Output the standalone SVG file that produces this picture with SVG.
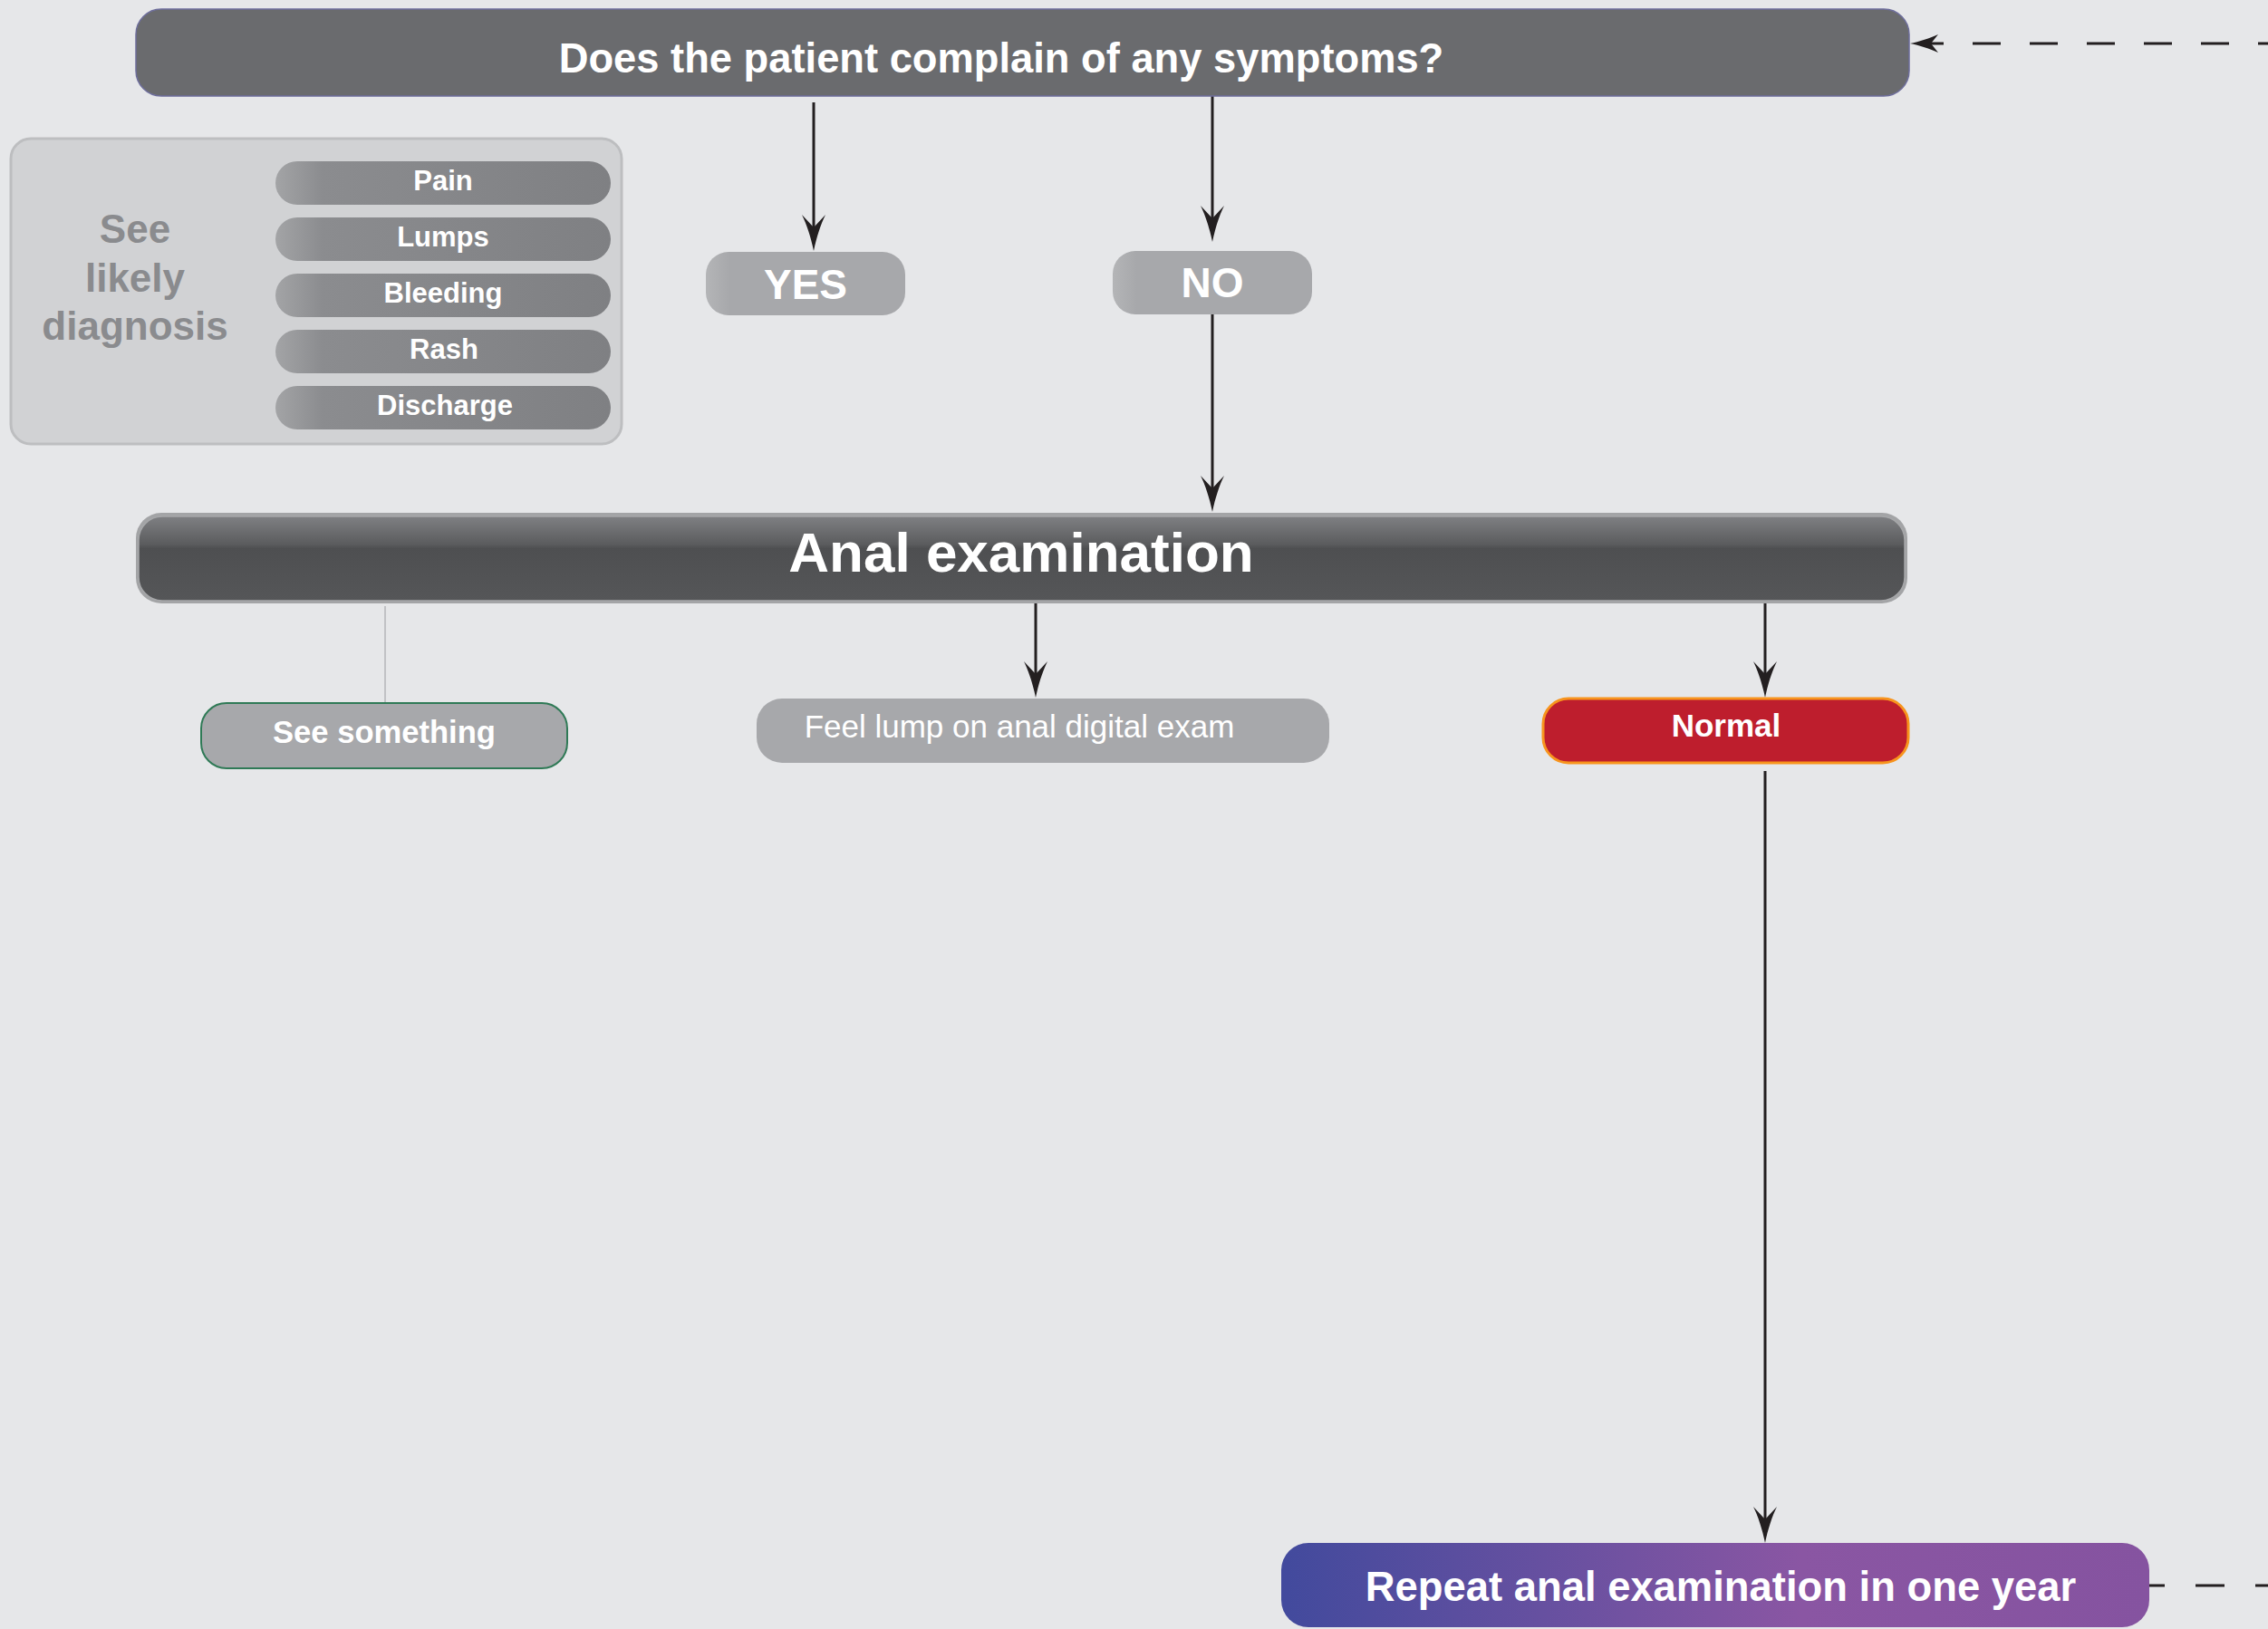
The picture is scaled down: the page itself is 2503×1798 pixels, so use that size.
<svg xmlns="http://www.w3.org/2000/svg" width="2503" height="1798" viewBox="0 0 2503 1798">
<style>
.t{font-family:"Liberation Sans",Arial,Helvetica,sans-serif;fill:#ffffff;text-anchor:middle}
.b{font-weight:bold}
.pill{fill:url(#pillG)}
.conn{stroke:#231f20;stroke-width:3;fill:none}
</style>
<defs>
<linearGradient id="pillG" x1="0" y1="0" x2="1" y2="0">
<stop offset="0" stop-color="#a3a4a6"/>
<stop offset="0.14" stop-color="#8b8c8f"/>
<stop offset="1" stop-color="#7f8083"/>
</linearGradient>
<linearGradient id="ynG" x1="0" y1="0" x2="1" y2="0">
<stop offset="0" stop-color="#b4b5b7"/>
<stop offset="0.12" stop-color="#a7a8ab"/>
<stop offset="1" stop-color="#a7a8ab"/>
</linearGradient>
<linearGradient id="anG" x1="0" y1="0" x2="0" y2="1">
<stop offset="0" stop-color="#7f8083"/>
<stop offset="0.33" stop-color="#5b5c5e"/>
<stop offset="0.38" stop-color="#4e4f51"/>
<stop offset="1" stop-color="#555658"/>
</linearGradient>
<linearGradient id="repG" x1="0" y1="0" x2="1" y2="0">
<stop offset="0" stop-color="#424a9d"/>
<stop offset="0.6" stop-color="#8a56a3"/>
<stop offset="1" stop-color="#8553a0"/>
</linearGradient>
<marker id="ah" viewBox="-45 -16 70 32" refX="-20" refY="0" markerWidth="70" markerHeight="32" markerUnits="userSpaceOnUse" orient="auto" overflow="visible">
<path d="M0,0 C-15,-3 -30,-8 -40,-13 L-26,0 L-40,13 C-30,8 -15,3 0,0 Z" fill="#231f20"/>
</marker>
</defs>
<rect x="0" y="0" width="2503" height="1798" fill="#e6e7e9"/>

<g id="connectors">
<line class="conn" x1="898" y1="113" x2="898" y2="257" marker-end="url(#ah)"/>
<line class="conn" x1="1338" y1="106" x2="1338" y2="247" marker-end="url(#ah)"/>
<line class="conn" x1="1338" y1="347" x2="1338" y2="545" marker-end="url(#ah)"/>
<line class="conn" x1="1143" y1="666" x2="1143" y2="750" marker-end="url(#ah)"/>
<line class="conn" x1="1948" y1="666" x2="1948" y2="750" marker-end="url(#ah)"/>
<line class="conn" x1="1948" y1="851" x2="1948" y2="1683" marker-end="url(#ah)"/>
<line x1="425" y1="669" x2="425" y2="776" stroke="#b5b6b8" stroke-width="1.5"/>
<line class="conn" x1="2372" y1="1750" x2="2503" y2="1750" stroke-dasharray="32 34" stroke-dashoffset="15"/>
<line class="conn" x1="2145" y1="48" x2="2503" y2="48" stroke-dasharray="31 32" stroke-dashoffset="31"/>
<line class="conn" x1="2128" y1="48" x2="2145" y2="48"/>
<path d="M2108,48 C2118,46 2130,42 2139,38 L2131,48 L2139,58 C2130,54 2118,50 2108,48 Z" fill="#231f20"/>
</g>

<g id="node-question">
<rect x="150" y="10" width="1957" height="96" rx="28" fill="#6a6b6e" stroke="#6e6e9c" stroke-width="1.5"/>
<text class="t b" x="1105" y="80" font-size="45.3">Does the patient complain of any symptoms?</text>
</g>

<g id="node-likely">
<rect x="12" y="153" width="674" height="337" rx="22" fill="#d1d2d4" stroke="#bdbec0" stroke-width="3"/>
<text class="t b" x="149" y="268" font-size="44" style="fill:#8a8b8e">See</text>
<text class="t b" x="149" y="322" font-size="44" style="fill:#8a8b8e">likely</text>
<text class="t b" x="149" y="375" font-size="44" style="fill:#8a8b8e">diagnosis</text>
</g>
<g id="node-pain"><rect class="pill" x="304" y="178" width="370" height="48" rx="24"/><text class="t b" x="489" y="210" font-size="31">Pain</text></g>
<g id="node-lumps"><rect class="pill" x="304" y="240" width="370" height="48" rx="24"/><text class="t b" x="489" y="272" font-size="31">Lumps</text></g>
<g id="node-bleeding"><rect class="pill" x="304" y="302" width="370" height="48" rx="24"/><text class="t b" x="489" y="334" font-size="31">Bleeding</text></g>
<g id="node-rash"><rect class="pill" x="304" y="364" width="370" height="48" rx="24"/><text class="t b" x="490" y="396" font-size="31">Rash</text></g>
<g id="node-discharge"><rect class="pill" x="304" y="426" width="370" height="48" rx="24"/><text class="t b" x="491" y="458" font-size="31">Discharge</text></g>

<g id="node-yes">
<rect x="779" y="278" width="220" height="70" rx="25" fill="url(#ynG)"/>
<text class="t b" x="889" y="330" font-size="46">YES</text>
</g>
<g id="node-no">
<rect x="1228" y="277" width="220" height="70" rx="25" fill="url(#ynG)"/>
<text class="t b" x="1338" y="328" font-size="46">NO</text>
</g>

<g id="node-anal">
<rect x="150" y="566" width="1955" height="100" rx="28" fill="#a3a4a6"/>
<rect x="153" y="570" width="1949" height="93" rx="26" fill="url(#anG)" stroke="#a6a7a9" stroke-width="1.5"/>
<text class="t b" x="1127" y="631" font-size="62">Anal examination</text>
</g>

<g id="node-see">
<rect x="222" y="776" width="404" height="72" rx="28" fill="#a7a8ab" stroke="#2f7a56" stroke-width="2"/>
<text class="t b" x="424" y="820" font-size="34.6">See something</text>
</g>
<g id="node-feel">
<rect x="835" y="771" width="632" height="71" rx="28" fill="#a7a8ab"/>
<text class="t" x="1125" y="814" font-size="35">Feel lump on anal digital exam</text>
</g>
<g id="node-normal">
<rect x="1703" y="771" width="403" height="71" rx="28" fill="#be1e2d" stroke="#f7941d" stroke-width="3"/>
<text class="t b" x="1905" y="813" font-size="35">Normal</text>
</g>

<g id="node-repeat">
<rect x="1414" y="1703" width="958" height="93" rx="30" fill="url(#repG)"/>
<text class="t b" x="1899" y="1767" font-size="45.4">Repeat anal examination in one year</text>
</g>
</svg>
